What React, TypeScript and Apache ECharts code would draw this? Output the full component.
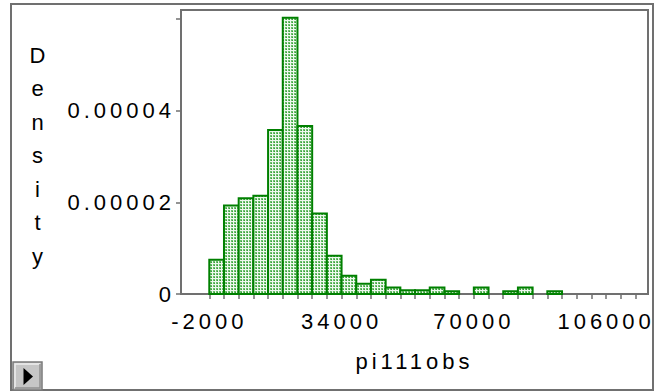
import React, { useEffect, useRef } from 'react';
import * as echarts from 'echarts';

// Histogram bins (left edges) and densities
const binWidth = 4000;
const binStarts = [
  -2000, 2000, 6000, 10000, 14000, 18000, 22000, 26000, 30000, 34000, 38000, 42000,
  46000, 50000, 54000, 58000, 62000, 66000, 70000, 74000, 78000, 82000, 86000, 90000,
];
const densities = [
  0.0000075, 0.0000193, 0.0000209, 0.00002145, 0.0000358, 0.0000603, 0.0000367, 0.0000176,
  0.00000835, 0.000004, 0.00000225, 0.0000031, 0.0000014, 0.0000008, 0.0000008, 0.0000014,
  0.0000006, 0, 0.0000014, 0, 0.0000006, 0.0000014, 0, 0.0000006,
];

// Axis ticks and labels
const xTickValues = [
  -2000, 2000, 6000, 10000, 14000, 18000, 22000, 26000, 30000, 34000, 38000, 42000,
  46000, 50000, 54000, 58000, 62000, 66000, 70000, 74000, 78000, 82000, 86000, 90000,
  94000, 98000, 102000, 106000, 110000, 114000,
];
const xLabelValues = [-2000, 34000, 70000, 106000];
const yTickValues = [0, 0.00002, 0.00004, 0.00006];
const yLabelValues = [0, 0.00002, 0.00004];
const yLabelTexts = ['0', '0.00002', '0.00004'];
const xAxisTitle = 'pi111obs';
const yAxisTitle = 'Density';

const FONT = "'Liberation Sans', Arial, Helvetica, sans-serif";
const FRAME = '#707070';
const GREEN = '#008000';

function makePattern(): string {
  const c = document.createElement('canvas');
  c.width = 3;
  c.height = 3;
  const ctx = c.getContext('2d')!;
  ctx.fillStyle = '#eef8ee';
  ctx.fillRect(0, 0, 3, 3);
  ctx.fillStyle = '#6cc06c';
  ctx.fillRect(0, 0, 2, 2);
  ctx.fillStyle = '#3a9a3a';
  ctx.fillRect(1, 1, 1, 1);
  return c.toDataURL();
}

export default function App() {
  const ref = useRef<HTMLDivElement>(null);

  useEffect(() => {
    if (!ref.current) return;
    const chart = echarts.init(ref.current, undefined, { renderer: 'svg' });
    const patternSrc = makePattern();
    const fillPattern: any = { image: patternSrc, repeat: 'repeat', imageWidth: 3, imageHeight: 3 };

    const data = binStarts
      .map((s, i) => [s, densities[i]])
      .filter((d) => d[1] > 0);

    const option: any = {
      animation: false,
      textStyle: { fontFamily: FONT },
      grid: {
        left: 181,
        top: 10,
        right: 15,
        bottom: 98,
        show: true,
        borderColor: FRAME,
        borderWidth: 2,
        backgroundColor: 'transparent',
      },
      xAxis: {
        type: 'value',
        min: -9700,
        max: 117400,
        splitLine: { show: false },
        axisLine: { show: true, onZero: false, lineStyle: { color: FRAME, width: 2 } },
        axisTick: {
          show: true,
          length: 5,
          customValues: xTickValues,
          lineStyle: { color: FRAME, width: 1.5 },
        },
        axisLabel: {
          customValues: xLabelValues,
          formatter: (v: number) => String(v),
          color: '#000',
          fontSize: 22,
          fontFamily: FONT,
          margin: 16,
        },
        name: xAxisTitle,
        nameLocation: 'middle',
        nameGap: 56,
        nameTextStyle: { color: '#000', fontSize: 22, fontFamily: FONT, verticalAlign: 'top' },
      },
      yAxis: {
        type: 'value',
        min: 0,
        max: 0.000062,
        splitLine: { show: false },
        axisLine: { show: true, onZero: false, lineStyle: { color: FRAME, width: 2 } },
        axisTick: {
          show: true,
          length: 5,
          customValues: yTickValues,
          lineStyle: { color: FRAME, width: 1.5 },
        },
        axisLabel: {
          customValues: yLabelValues,
          formatter: (v: number) => {
            const i = yLabelValues.findIndex((x) => Math.abs(x - v) < 1e-9);
            return i >= 0 ? yLabelTexts[i] : '';
          },
          color: '#000',
          fontSize: 22,
          fontFamily: FONT,
          margin: 6,
        },
      },
      series: [
        {
          type: 'custom',
          data,
          clip: false,
          renderItem: (params: any, api: any) => {
            const x0 = api.value(0);
            const y = api.value(1);
            const p0 = api.coord([x0, y]);
            const p1 = api.coord([x0 + binWidth, 0]);
            return {
              type: 'rect',
              shape: { x: p0[0], y: p0[1], width: p1[0] - p0[0], height: p1[1] - p0[1] },
              style: { fill: fillPattern, stroke: GREEN, lineWidth: 2 },
            };
          },
        },
      ],
      graphic: [
        {
          type: 'rect',
          z: -1,
          shape: { x: 11, y: 4, width: 642, height: 386 },
          style: { fill: 'none', stroke: FRAME, lineWidth: 2 },
        },
        {
          type: 'text',
          x: 39.5,
          y: 38.7,
          style: {
            text: yAxisTitle.split('').join('\n'),
            fontSize: 22,
            fontFamily: FONT,
            lineHeight: 33.5,
            fill: '#000',
            textAlign: 'center',
            textVerticalAlign: 'top',
            align: 'center',
            verticalAlign: 'top',
          },
        },
        {
          type: 'group',
          children: [
            {
              type: 'rect',
              shape: { x: 13, y: 362, width: 29, height: 28 },
              style: { fill: '#c6c6c6', stroke: '#7a7a7a', lineWidth: 1.5 },
            },
            {
              type: 'polyline',
              shape: { points: [[15, 388], [15, 364], [40, 364]] },
              style: { stroke: '#eeeeee', lineWidth: 1.5, fill: 'none' },
            },
            {
              type: 'polyline',
              shape: { points: [[15, 388], [40, 388], [40, 364]] },
              style: { stroke: '#909090', lineWidth: 1.5, fill: 'none' },
            },
            {
              type: 'polygon',
              shape: { points: [[23.5, 368], [33, 376.5], [23.5, 385]] },
              style: { fill: '#000' },
            },
          ],
        },
      ],
    };

    chart.setOption(option);
    return () => chart.dispose();
  }, []);

  return (
    <div
      ref={ref}
      style={{
        position: 'fixed',
        left: 0,
        top: 0,
        width: 663,
        height: 392,
        background: '#ffffff',
        letterSpacing: '4px',
      }}
    />
  );
}
